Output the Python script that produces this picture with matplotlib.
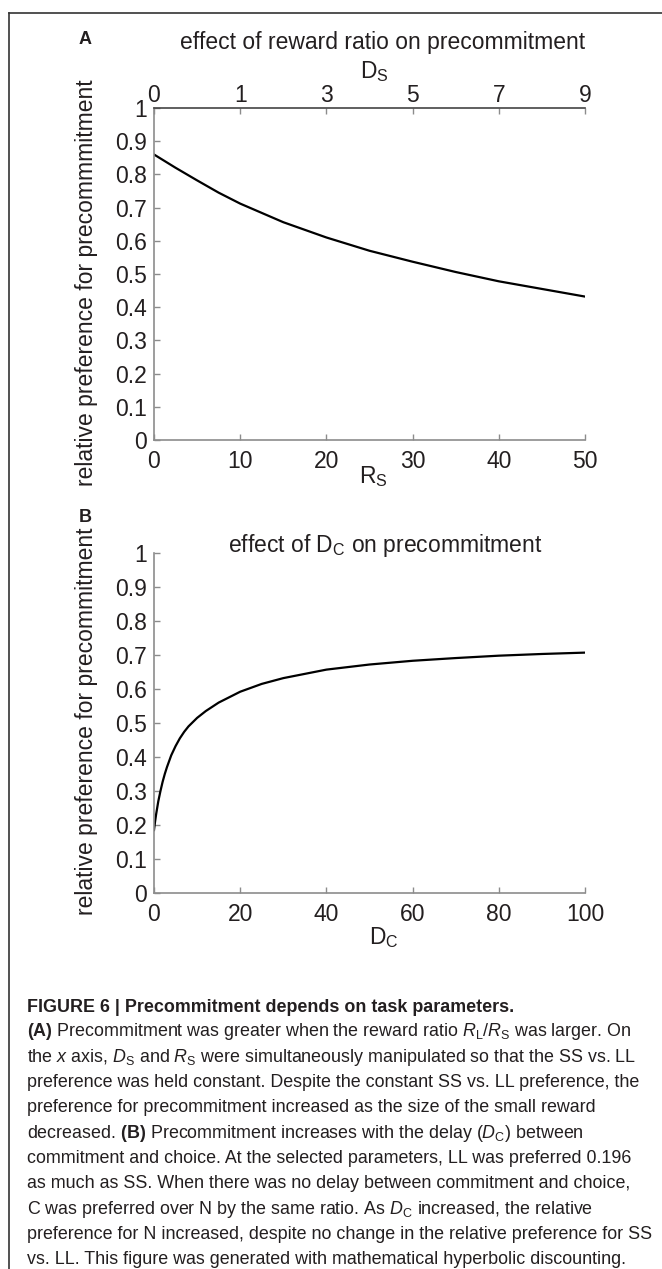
import numpy as np
import matplotlib
matplotlib.use("Agg")
import matplotlib.pyplot as plt
from matplotlib.lines import Line2D
from matplotlib.ticker import FormatStrFormatter

plt.rcParams['font.family'] = ['Liberation Sans', 'DejaVu Sans']
plt.rcParams['mathtext.fontset'] = 'custom'
plt.rcParams['mathtext.sf'] = 'Liberation Sans'
plt.rcParams['mathtext.rm'] = 'Liberation Sans'
plt.rcParams['mathtext.it'] = 'Liberation Sans:italic'
plt.rcParams['mathtext.bf'] = 'Liberation Sans:bold'

# panel A: reward ratio
rs = [0, 2.5, 5, 7.5, 10, 15, 20, 25, 30, 35, 40, 45, 50]
pref_a = [0.86, 0.82, 0.782, 0.745, 0.712, 0.656, 0.61, 0.57, 0.537, 0.506,
          0.478, 0.455, 0.432]
rs_ticks = [0, 10, 20, 30, 40, 50]
ds_labels = ['0', '1', '3', '5', '7', '9']

# panel B: delay between commitment and choice
dc = [0, 0.25, 0.5, 1, 1.5, 2, 2.5, 3, 4, 5, 6, 7, 8, 10, 12, 15, 20, 25, 30,
      40, 50, 60, 70, 80, 90, 100]
pref_b = [0.185, 0.21, 0.232, 0.27, 0.30, 0.327, 0.35, 0.37, 0.405, 0.432,
          0.455, 0.474, 0.49, 0.515, 0.535, 0.56, 0.592, 0.615, 0.632,
          0.657, 0.672, 0.683, 0.691, 0.698, 0.703, 0.707]
dc_ticks = [0, 20, 40, 60, 80, 100]

yticks = np.round(np.arange(0, 1.01, 0.1), 1)

W, H = 662, 1269
fig = plt.figure(figsize=(W / 100, H / 100), dpi=100)

def fx(px):
    return px / W

def fy(py):
    return 1 - py / H

gray = '#8c8c8c'
txt = '#231f20'
fs = 16.5

def style(ax):
    ax.set_ylim(0, 1)
    ax.set_yticks(yticks)
    ax.yaxis.set_major_formatter(FormatStrFormatter('%g'))
    for s in ['right', 'top']:
        ax.spines[s].set_visible(False)
    for s in ['left', 'bottom']:
        ax.spines[s].set_color(gray)
        ax.spines[s].set_linewidth(1.2)
    ax.tick_params(direction='in', length=4, width=1, color=gray,
                   labelsize=fs, labelcolor=txt)
    ax.tick_params(axis='y', pad=5)
    ax.tick_params(axis='x', pad=7)

# ---- A
axA = fig.add_axes([fx(154), fy(440), fx(431), 332 / H])
axA.plot(rs, pref_a, color='black', lw=1.6)
axA.set_xlim(0, 50)
axA.set_xticks(rs_ticks)
style(axA)

top = axA.twiny()
top.set_xlim(0, 50)
top.set_xticks(rs_ticks)
top.set_xticklabels(ds_labels)
for s in ['right', 'left', 'bottom']:
    top.spines[s].set_visible(False)
top.spines['top'].set_color('#444444')
top.spines['top'].set_linewidth(1.2)
top.tick_params(direction='in', length=4, width=1, color=gray,
                labelsize=fs, labelcolor=txt, pad=1)

fig.text(fx(87), fy(283), 'relative preference for precommmitment', fontsize=fs,
         color=txt, rotation=90, ha='center', va='center')
fig.text(fx(374), fy(72), 'D$_\\mathsf{S}$', fontsize=fs, color=txt,
         ha='center', va='center')
fig.text(fx(373), fy(477), 'R$_\\mathsf{S}$', fontsize=fs, color=txt,
         ha='center', va='center')
fig.text(fx(383), fy(42), 'effect of reward ratio on precommitment',
         fontsize=fs, color=txt, ha='center', va='center')
fig.text(fx(85), fy(40), 'A', fontsize=13, fontweight='bold', color=txt,
         ha='center', va='center')

# ---- B
axB = fig.add_axes([fx(154), fy(893), fx(431), 340 / H])
axB.plot(dc, pref_b, color='black', lw=1.6)
axB.set_xlim(0, 100)
axB.set_xticks(dc_ticks)
style(axB)

fig.text(fx(87), fy(721), 'relative preference for precommitment', fontsize=fs,
         color=txt, rotation=90, ha='center', va='center')
fig.text(fx(384), fy(938), 'D$_\\mathsf{C}$', fontsize=fs, color=txt,
         ha='center', va='center')
fig.text(fx(385), fy(545), 'effect of D$_\\mathsf{C}$ on precommitment',
         fontsize=fs, color=txt, ha='center', va='center')
fig.text(fx(85), fy(517), 'B', fontsize=13, fontweight='bold', color=txt,
         ha='center', va='center')

# ---- frame (left and top rule)
fig.add_artist(Line2D([fx(9), fx(9)], [fy(13), 0], color='#333333', lw=1.2))
fig.add_artist(Line2D([fx(9), 1], [fy(13), fy(13)], color='#333333', lw=1.2))

# ---- caption
cap_fs = 12.9
fig.text(fx(27), fy(1007), 'FIGURE 6 | Precommitment depends on task parameters.',
         fontsize=cap_fs, fontweight='bold', color=txt, va='center')

lines = [
    '$\\mathbf{(A)}$ Precommitment was greater when the reward ratio $R_\\mathrm{L}/R_\\mathrm{S}$ was larger. On',
    'the $x$ axis, $D_\\mathrm{S}$ and $R_\\mathrm{S}$ were simultaneously manipulated so that the SS vs. LL',
    'preference was held constant. Despite the constant SS vs. LL preference, the',
    'preference for precommitment increased as the size of the small reward',
    'decreased. $\\mathbf{(B)}$ Precommitment increases with the delay ($D_\\mathrm{C}$) between',
    'commitment and choice. At the selected parameters, LL was preferred 0.196',
    'as much as SS. When there was no delay between commitment and choice,',
    'C was preferred over N by the same ratio. As $D_\\mathrm{C}$ increased, the relative',
    'preference for N increased, despite no change in the relative preference for SS',
    'vs. LL. This figure was generated with mathematical hyperbolic discounting.',
]
for i, line in enumerate(lines):
    fig.text(fx(27), fy(1032 + i * 25.3), line, fontsize=cap_fs,
             color=txt, va='center')

fig.savefig('out.png', dpi=100)
